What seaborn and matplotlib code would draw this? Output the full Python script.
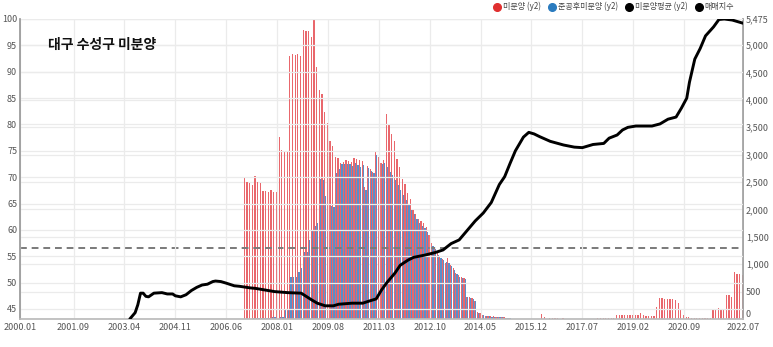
import numpy as np
import pandas as pd
import matplotlib
matplotlib.use("Agg")
import matplotlib.pyplot as plt
import seaborn as sns
from matplotlib.lines import Line2D

# ---------------- data ----------------
months = [f"{y}.{m:02d}" for y in range(2000, 2023) for m in range(1, 13)][:271]  # 2000.01 .. 2022.07
tick_months = ["2000.01", "2001.09", "2003.04", "2004.11", "2006.06", "2008.01", "2009.08",
               "2011.03", "2012.10", "2014.05", "2015.12", "2017.07", "2019.02", "2020.09", "2022.07"]

unsold_start = "2007.01"
# 미분양 (y2), monthly from 2007.01
unsold = [
    2597, 2500, 2488, 2446, 2616, 2500, 2476, 2336, 2336, 2318, 2354, 2318, 2318,
    3322, 3078, 3072, 3054, 4806, 4830, 4818, 4843, 4806, 5274, 5262, 5250, 5141, 5475,
    4593, 4179, 4106, 3784, 3571, 3243, 3157, 2962, 2932, 2853, 2871, 2902, 2889, 2859,
    2932, 2914, 2902, 2889,
    2400, 2792, 2743, 2680, 3066, 2962, 2850, 2900, 3741, 3553, 3376, 3254, 2914, 2768,
    2555, 2464, 2294, 2185, 1989, 1916, 1819, 1794, 1746, 1685, 1533, 1381, 1308, 1199,
    1150, 1089, 1027, 1108, 985, 925, 834, 803, 772, 743, 407, 396, 378, 334, 133, 104,
    73, 55, 55, 50, 50, 45, 40, 30, 30, 25, 20,
    0, 0, 0, 0, 0, 0, 0, 0, 0, 0, 0,
    91, 30, 0, 18, 18, 18, 18, 0, 10,
    0, 0, 0, 0, 0, 0, 0, 0, 0, 0, 0, 0,
    12, 12, 12, 12, 12, 12, 12,
    73, 73, 70, 68, 66, 64, 64, 64, 64, 104, 64, 60, 60, 60, 60,
    225, 389, 380, 371, 365, 365, 359, 347, 298, 182, 73,
    30, 30, 25, 25, 22, 20, 20, 20, 20, 20,
    190, 190, 200, 190, 170, 440, 430, 410, 850, 830, 820, 810,
]
# 준공후미분양 (y2), monthly from 2007.01
completed_unsold = [
    0, 0, 0, 20, 20, 20, 20, 20, 20, 20, 40, 40, 40, 40, 40, 177, 177, 772, 772, 772,
    852, 925, 1217, 1217, 1442, 1624, 1697, 1746, 2549, 2537, 2251, 2080, 2062, 2038,
    2659, 2732, 2823, 2823, 2829, 2829, 2792, 2841, 2810, 2780, 2805,
    2354, 2750, 2700, 2659, 2993, 2930, 2823, 2850, 2780, 2688, 2628, 2537, 2446, 2354,
    2263, 2172, 2080, 1989, 1916, 1819, 1746, 1697, 1655, 1594, 1442, 1332, 1272, 1168,
    1108, 1077, 1040, 1027, 967, 894, 821, 772, 743, 730, 396, 380, 360, 320, 115, 95,
    65, 50, 50, 45, 45, 40, 35, 28, 25, 20, 15,
] + [0] * 87

# 매매지수 (left axis), sampled months
index_months = [
    "2003.06", "2003.08", "2003.09", "2003.10", "2003.11", "2003.12", "2004.01", "2004.03",
    "2004.06", "2004.08", "2004.10", "2004.11", "2005.01", "2005.03", "2005.05", "2005.07",
    "2005.09", "2005.11", "2006.01", "2006.02", "2006.04", "2006.06", "2006.09", "2006.11",
    "2007.03", "2007.05", "2007.12", "2008.05", "2008.10", "2008.12", "2009.02", "2009.04",
    "2009.07", "2009.10", "2009.12", "2010.05", "2010.09", "2010.12", "2011.02", "2011.04",
    "2011.06", "2011.09", "2011.11", "2012.02", "2012.04", "2012.08", "2012.12", "2013.03",
    "2013.06", "2013.09", "2013.12", "2014.03", "2014.06", "2014.09", "2014.12", "2015.02",
    "2015.04", "2015.06", "2015.09", "2015.11", "2016.01", "2016.03", "2016.07", "2016.12",
    "2017.04", "2017.07", "2017.11", "2018.03", "2018.05", "2018.08", "2018.10", "2018.12",
    "2019.03", "2019.09", "2019.12", "2020.03", "2020.06", "2020.08", "2020.10", "2020.11",
    "2021.01", "2021.03", "2021.05", "2021.08", "2021.10", "2021.12", "2022.03", "2022.07",
]
index_values = [
    43.1, 44.3, 45.8, 48.0, 48.0, 47.4, 47.3, 48.0,
    48.1, 47.85, 47.85, 47.5, 47.3, 47.7, 48.5, 49.1,
    49.55, 49.7, 50.2, 50.3, 50.2, 49.9, 49.4, 49.3,
    49.0, 48.9, 48.3, 48.1, 48.0, 47.35, 46.7, 46.1,
    45.6, 45.6, 45.9, 46.1, 46.1, 46.6, 46.9, 48.6,
    50.0, 51.8, 53.3, 54.3, 54.8, 55.2, 55.7, 56.2,
    57.4, 58.1, 59.9, 61.7, 63.2, 65.2, 68.6, 70.1,
    72.6, 75.0, 77.6, 78.5, 78.2, 77.7, 76.8, 76.1,
    75.7, 75.6, 76.2, 76.4, 77.4, 78.0, 78.95, 79.45,
    79.7, 79.7, 80.1, 81.0, 81.4, 83.1, 85.0, 88.0,
    92.4, 94.4, 96.8, 98.5, 99.9, 100.0, 99.8, 99.2,
]

series_names = ["미분양 (y2)", "준공후미분양 (y2)", "미분양평균 (y2)", "매매지수"]
title = "대구 수성구 미분양"

# ---------------- build ----------------
start = months.index(unsold_start)
red_full = [0] * start + unsold
blue_full = [0] * start + completed_unsold
avg_unsold = float(np.mean(unsold))

df = pd.DataFrame({
    "month": months * 2,
    "value": red_full + blue_full,
    "series": [series_names[0]] * len(months) + [series_names[1]] * len(months),
})

sns.set_theme(style="white")
plt.rcParams["font.family"] = ["Noto Sans CJK KR", "DejaVu Sans"]

W, H = 773, 347
fig = plt.figure(figsize=(W / 100, H / 100), dpi=100)
ax = fig.add_axes([20 / W, 28 / H, 723 / W, 300 / H])
ax_r = ax.twinx()

sns.barplot(data=df, x="month", y="value", hue="series", order=months,
            hue_order=series_names[:2], palette=["#e9676c", "#5a8fcb"],
            errorbar=None, width=0.92, saturation=1, linewidth=0,
            legend=False, ax=ax_r)
ax_r.axhline(avg_unsold, color="#7a7a7a", lw=1.4, ls=(0, (3.5, 2.5)), zorder=5)

xpos = [months.index(m) for m in index_months]
sns.lineplot(x=xpos, y=index_values, color="black", lw=2.1, ax=ax, zorder=6)

ax.set_zorder(ax_r.get_zorder() + 1)
ax.patch.set_visible(False)

# axes limits / ticks
ax.set_xlim(0, len(months) - 1)
ax.set_ylim(min(index_values), 100)
ax.set_yticks(range(45, 101, 5))
ax.set_xticks([months.index(m) for m in tick_months])
ax.set_xticklabels(tick_months)
r_ticks = list(range(0, 5001, 500)) + [5475]
ax_r.set_ylim(0, 5475)
ax_r.set_yticks(r_ticks)
ax_r.set_yticklabels([f"{t:,}" for t in r_ticks])
for a in (ax, ax_r):
    a.set_xlabel("")
    a.set_ylabel("")
    a.tick_params(labelsize=6.5, colors="#555555", length=0, pad=2)
ax.tick_params(axis="x", pad=3)
# lift the right-axis "0" so it sits above the last date label
ax_r.get_yticklabels()[0].set_va("bottom")

ax.grid(True, axis="both", color="#ebebeb", lw=0.9)
ax_r.grid(True, axis="y", color="#ebebeb", lw=0.9)
ax_r.set_axisbelow(True)

for s in ("top", "right"):
    ax.spines[s].set_visible(False)
ax.spines["left"].set_color("#999999")
ax.spines["bottom"].set_color("#bbbbbb")
for s in ("top", "left", "bottom"):
    ax_r.spines[s].set_visible(False)
ax_r.spines["right"].set_color("#999999")

ax.text(28 / 723, 0.913, title, transform=ax.transAxes,
        fontsize=10, fontweight="bold", color="#111111", va="center", ha="left", zorder=10)

handles = [Line2D([], [], marker="o", ls="", color=c, markersize=5.5)
           for c in ["#e02f2f", "#2a7bbf", "black", "black"]]
fig.legend(handles, series_names, loc="upper right", bbox_to_anchor=(741 / W, 1.015),
           ncol=4, frameon=False, fontsize=5.8, handletextpad=0.3, columnspacing=1.0,
           handlelength=0.8, labelcolor="#444444")

fig.savefig("out.png", dpi=100, facecolor="white")
